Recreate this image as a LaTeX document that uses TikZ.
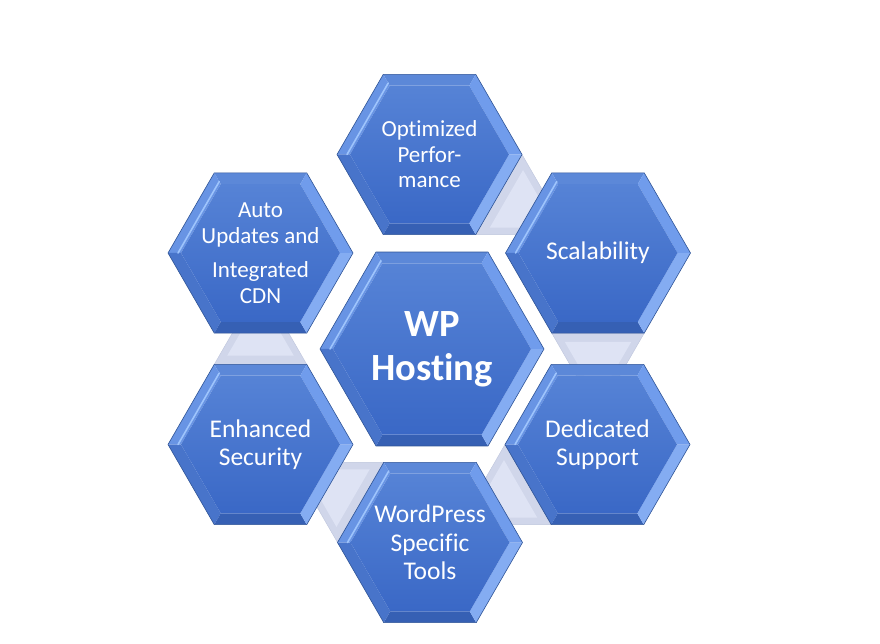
\documentclass[tikz,border=0pt]{standalone}
\usepackage{fontspec}
\setmainfont{Carlito}
\usetikzlibrary{calc, backgrounds}

\definecolor{hexline}{RGB}{47,84,150}
\definecolor{hexhi}{RGB}{86,131,214}
\definecolor{hexlo}{RGB}{58,104,198}
\definecolor{bevtop}{RGB}{92,136,216}
\definecolor{bevul}{RGB}{104,148,228}
\definecolor{bevll}{RGB}{72,116,202}
\definecolor{bevbot}{RGB}{54,96,180}
\definecolor{bevlr}{RGB}{132,172,242}
\definecolor{bevur}{RGB}{112,156,236}
\definecolor{glint}{RGB}{158,196,252}
\definecolor{linkgrey}{RGB}{208,214,234}
\definecolor{linklight}{RGB}{222,227,244}
\definecolor{linkedge}{RGB}{190,197,220}

% keeps two letters apart (no ligature)
\newcommand{\nolig}{\kern0pt}

% beveled hexagon with its label
\newcommand{\hexcell}[5]{%
  \pgfmathsetmacro{\hexin}{#3-13}
  \begin{scope}[shift={#2}]
    \fill[bevtop] (60:#3) -- (120:#3) -- (120:\hexin) -- (60:\hexin) -- cycle;
    \fill[bevul] (120:#3) -- (180:#3) -- (180:\hexin) -- (120:\hexin) -- cycle;
    \fill[bevll] (180:#3) -- (240:#3) -- (240:\hexin) -- (180:\hexin) -- cycle;
    \fill[bevbot] (240:#3) -- (300:#3) -- (300:\hexin) -- (240:\hexin) -- cycle;
    \fill[bevlr] (300:#3) -- (360:#3) -- (360:\hexin) -- (300:\hexin) -- cycle;
    \fill[bevur] (0:#3) -- (60:#3) -- (60:\hexin) -- (0:\hexin) -- cycle;
    \shade[top color=hexhi, bottom color=hexlo] (0:\hexin) -- (60:\hexin) -- (120:\hexin)
      -- (180:\hexin) -- (240:\hexin) -- (300:\hexin) -- cycle;
    \draw[glint, line width=1.6pt, line cap=round] (120:{\hexin+3}) -- (180:{\hexin+3});
    \draw[hexedge] (0:#3) -- (60:#3) -- (120:#3) -- (180:#3) -- (240:#3) -- (300:#3) -- cycle;
  \end{scope}
  \node[#4] (#1) at #2 {#5};
}

% grey wedge growing out of one side of a hexagon
\newcommand{\linkwedge}[3]{%
  \begin{scope}[shift={(#1)}, rotate=#2]
    \fill[wedge] (-30:#3) -- (30:#3) -- (0:{#3*1.732}) -- cycle;
    \fill[linklight] ({#3*0.96},{-#3*0.36}) -- ({#3*0.96},{#3*0.36}) -- ({#3*1.58},0) -- cycle;
  \end{scope}
}

\begin{document}
\begin{tikzpicture}[x=1pt, y=1pt,
    hexedge/.style={draw=hexline, line width=0.6pt},
    wedge/.style={fill=linkgrey, draw=linkedge, line width=0.4pt},
    hexlabel/.style={text=white, align=center, inner sep=0pt, font=\fontsize{25.5}{28.5}\selectfont},
    smalllabel/.style={hexlabel, font=\fontsize{23}{25.5}\selectfont},
    hublabel/.style={hexlabel, font=\fontsize{38.5}{44}\selectfont\bfseries}
  ]
  \useasboundingbox (0,0) rectangle (880,643);

  \hexcell{hub}{(432,294)}{112}{hublabel}{WP\\Host\nolig ing}
  \hexcell{opt}{(429.5,488.5)}{92.5}{smalllabel}{Opt\nolig imized\\Perfor-\\mance}
  \hexcell{scal}{(598,390)}{92.5}{hexlabel}{Scalability}
  \hexcell{ded}{(597.5,198.5)}{92.5}{hexlabel}{Dedicated\\Support}
  \hexcell{wp}{(430,100.5)}{92.5}{hexlabel}{WordPress\\Specif\nolig ic\\Tools}
  \hexcell{enh}{(260.5,198.5)}{92.5}{hexlabel}{Enhanced\\Security}
  \hexcell{auto}{(260.5,390)}{92.5}{smalllabel}{Auto\\Updates and\\[9pt]Integrated\\CDN}

  \begin{scope}[on background layer]
    \linkwedge{opt}{-30}{92.5}
    \linkwedge{scal}{-90}{92.5}
    \linkwedge{ded}{-150}{92.5}
    \linkwedge{wp}{150}{92.5}
    \linkwedge{enh}{90}{92.5}
  \end{scope}
\end{tikzpicture}
\end{document}
